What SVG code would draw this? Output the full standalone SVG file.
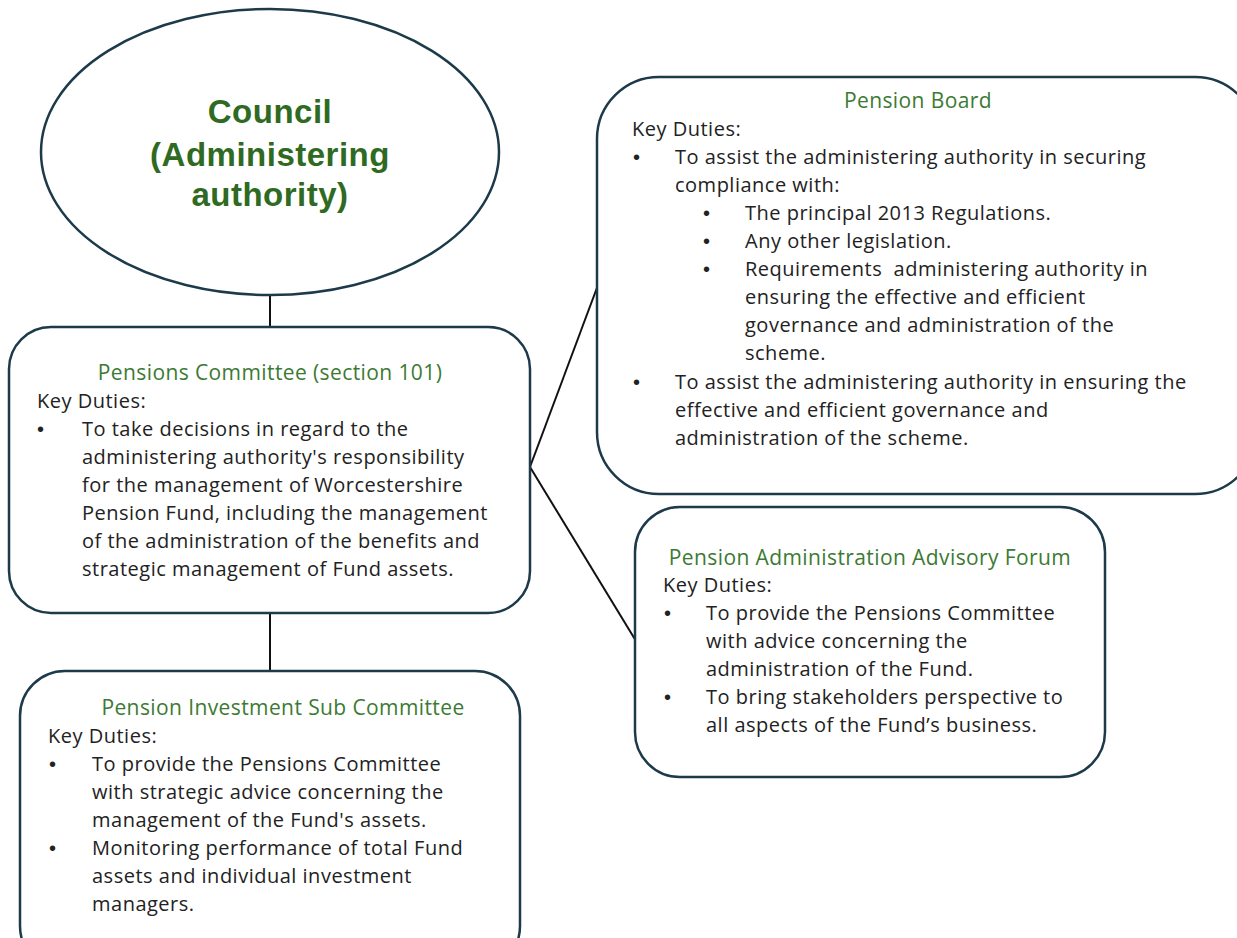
<svg xmlns="http://www.w3.org/2000/svg" width="1237" height="938" viewBox="0 0 1237 938">
<style>
.box{fill:#fff;stroke:#1d3a4a;stroke-width:2.5}
.con{stroke:#111;stroke-width:2;fill:none}
.t{font-family:"Open Sans","Liberation Sans",Arial,sans-serif;font-size:20px;letter-spacing:0.5px;fill:#222}
.b{font-family:"Liberation Sans",Arial,sans-serif;font-size:20px;fill:#222}
.h{font-family:"Open Sans","Liberation Sans",Arial,sans-serif;font-size:21px;letter-spacing:0.4px;fill:#3c7a33;text-anchor:middle}
.c{font-family:"Liberation Sans",Arial,sans-serif;font-size:33px;font-weight:bold;fill:#2f6a22;text-anchor:middle;letter-spacing:0.5px}
</style>
<rect width="1237" height="938" fill="#fff"/>
<g id="connectors">
<line class="con" x1="270" y1="295" x2="270" y2="328"/>
<line class="con" x1="270" y1="613" x2="270" y2="671"/>
<line class="con" x1="530" y1="467" x2="598" y2="285"/>
<line class="con" x1="530" y1="467" x2="636" y2="641"/>
</g>
<g id="council">
<ellipse class="box" cx="270" cy="152" rx="229" ry="143"/>
<text class="c" x="270" y="123">Council</text>
<text class="c" x="270" y="166">(Administering</text>
<text class="c" x="270" y="206">authority)</text>
</g>
<g id="pensions-committee">
<rect class="box" x="9" y="327" width="521" height="286" rx="42"/>
<text class="h" x="270" y="380">Pensions Committee (section 101)</text>
<text class="t" x="37" y="408">Key Duties:</text>
<text class="b" x="37" y="436">•</text>
<text class="t" x="82" y="436">To take decisions in regard to the</text>
<text class="t" x="82" y="464">administering authority's responsibility</text>
<text class="t" x="82" y="492">for the management of Worcestershire</text>
<text class="t" x="82" y="520">Pension Fund, including the management</text>
<text class="t" x="82" y="548">of the administration of the benefits and</text>
<text class="t" x="82" y="576">strategic management of Fund assets.</text>
</g>
<g id="pension-board">
<rect class="box" x="597" y="77" width="660" height="417" rx="62"/>
<text class="h" x="918" y="108">Pension Board</text>
<text class="t" x="632" y="136">Key Duties:</text>
<text class="b" x="633" y="164">•</text>
<text class="t" x="675" y="164">To assist the administering authority in securing</text>
<text class="t" x="675" y="192">compliance with:</text>
<text class="b" x="703" y="220">•</text>
<text class="t" x="745" y="220">The principal 2013 Regulations.</text>
<text class="b" x="703" y="248">•</text>
<text class="t" x="745" y="248">Any other legislation.</text>
<text class="b" x="703" y="276">•</text>
<text class="t" x="745" y="276" xml:space="preserve">Requirements  administering authority in</text>
<text class="t" x="745" y="304">ensuring the effective and efficient</text>
<text class="t" x="745" y="332">governance and administration of the</text>
<text class="t" x="745" y="360">scheme.</text>
<text class="b" x="633" y="389">•</text>
<text class="t" x="675" y="389">To assist the administering authority in ensuring the</text>
<text class="t" x="675" y="417">effective and efficient governance and</text>
<text class="t" x="675" y="445">administration of the scheme.</text>
</g>
<g id="advisory-forum">
<rect class="box" x="635" y="507" width="470" height="270" rx="45"/>
<text class="h" x="870" y="565">Pension Administration Advisory Forum</text>
<text class="t" x="663" y="592">Key Duties:</text>
<text class="b" x="664" y="620">•</text>
<text class="t" x="706" y="620">To provide the Pensions Committee</text>
<text class="t" x="706" y="648">with advice concerning the</text>
<text class="t" x="706" y="676">administration of the Fund.</text>
<text class="b" x="664" y="704">•</text>
<text class="t" x="706" y="704">To bring stakeholders perspective to</text>
<text class="t" x="706" y="732">all aspects of the Fund’s business.</text>
</g>
<g id="investment-sub-committee">
<rect class="box" x="20" y="671" width="500" height="300" rx="45"/>
<text class="h" x="283" y="715">Pension Investment Sub Committee</text>
<text class="t" x="48" y="743">Key Duties:</text>
<text class="b" x="49" y="771">•</text>
<text class="t" x="92" y="771">To provide the Pensions Committee</text>
<text class="t" x="92" y="799">with strategic advice concerning the</text>
<text class="t" x="92" y="827">management of the Fund's assets.</text>
<text class="b" x="49" y="855">•</text>
<text class="t" x="92" y="855">Monitoring performance of total Fund</text>
<text class="t" x="92" y="883">assets and individual investment</text>
<text class="t" x="92" y="911">managers.</text>
</g>
</svg>
